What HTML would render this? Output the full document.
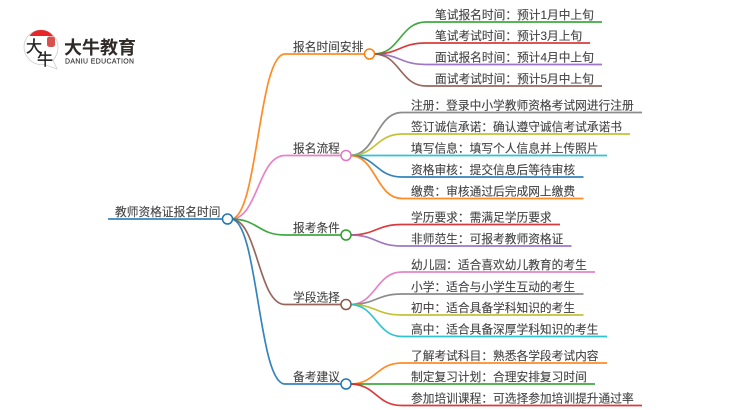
<!DOCTYPE html>
<html lang="zh">
<head>
<meta charset="utf-8">
<style>
html,body{margin:0;padding:0;background:#fff;width:750px;height:410px;overflow:hidden}
svg{display:block}
text{font-family:"Liberation Sans","Noto Sans CJK SC",sans-serif;font-size:11.72px;fill:#444;stroke:#444;stroke-width:.12px}
path{fill:none;stroke-width:1.7;stroke-opacity:.9}
circle{fill:#fff;stroke-width:1.5}
</style>
</head>
<body>
<svg width="750" height="410" viewBox="0 0 750 410" xmlns="http://www.w3.org/2000/svg">
<!-- logo -->
<path d="M44,64.500 C33,66 24,57 24,47 C24,37.500 32,30 41,30 C50,30 58,37.500 58,47 C58,53 56,57 53,60 L57,69 Z" style="fill:#fff;stroke:#c9c9c9;stroke-width:.8"/>
<path d="M29.500,36 C32,32 36,30 41,30 C46,30 50,32 53,36 Z" style="fill:#e8262a;stroke:none;stroke-opacity:1"/>
<rect x="47" y="36.500" width="8" height="10.500" rx="2.500" fill="#d8514f"/>
<text x="26" y="52" style="font-size:16px;fill:#222;stroke:#222;stroke-width:.3px;font-family:'Noto Sans CJK SC',sans-serif">大</text>
<text x="37" y="65" style="font-size:16px;fill:#222;stroke:#222;stroke-width:.3px;font-family:'Noto Sans CJK SC',sans-serif">牛</text>
<text x="64" y="54" style="font-size:18px;font-weight:700;fill:#2f2a28;stroke:none">大牛教育</text>
<text x="65" y="63.500" style="font-size:6.900px;fill:#333;stroke:#333;stroke-width:.15px" textLength="69">DANIU EDUCATION</text>

<!-- root links -->
<path stroke="#ff7f0e" d="M231,219 C258,219 258,54 285,54 H365"/>
<path stroke="#e377c2" d="M231,219 C258,219 258,155.500 285,155.500 H341"/>
<path stroke="#2ca02c" d="M231,219 C258,219 258,235 285,235 H341"/>
<path stroke="#8c564b" d="M231,219 C258,219 258,304.500 285,304.500 H341"/>
<path stroke="#1f77b4" d="M231,219 C258,219 258,384 285,384 H341"/>
<path stroke="#1f77b4" d="M108,219 H222"/>

<!-- branch 1 -->
<path stroke="#2ca02c" d="M374,54 C400,54 400,22 426,22 H602"/>
<path stroke="#d62728" d="M374,54 C400,54 400,43 426,43 H590"/>
<path stroke="#9467bd" d="M374,54 C400,54 400,64.500 426,64.500 H602"/>
<path stroke="#8c564b" d="M374,54 C400,54 400,86 426,86 H602"/>

<!-- branch 2 -->
<path stroke="#7f7f7f" d="M350,155.500 C376,155.500 376,112.500 402,112.500 H642"/>
<path stroke="#bcbd22" d="M350,155.500 C376,155.500 376,134 402,134 H630"/>
<path stroke="#17becf" d="M350,155.500 H607"/>
<path stroke="#1f77b4" d="M350,155.500 C376,155.500 376,177 402,177 H583.500"/>
<path stroke="#ff7f0e" d="M350,155.500 C376,155.500 376,198.500 402,198.500 H583.500"/>

<!-- branch 3 -->
<path stroke="#d62728" d="M350,235 C376,235 376,224.500 402,224.500 H560"/>
<path stroke="#9467bd" d="M350,235 C376,235 376,246 402,246 H571.500"/>

<!-- branch 4 -->
<path stroke="#e377c2" d="M350,304.500 C376,304.500 376,272 402,272 H595"/>
<path stroke="#7f7f7f" d="M350,304.500 C376,304.500 376,294 402,294 H583.500"/>
<path stroke="#bcbd22" d="M350,304.500 C376,304.500 376,315 402,315 H583.500"/>
<path stroke="#17becf" d="M350,304.500 C376,304.500 376,336.500 402,336.500 H607"/>

<!-- branch 5 -->
<path stroke="#ff7f0e" d="M350,384 C376,384 376,363 402,363 H607"/>
<path stroke="#2ca02c" d="M350,384 H595"/>
<path stroke="#d62728" d="M350,384 C376,384 376,405.500 402,405.500 H642"/>

<!-- nodes -->
<circle cx="227.500" cy="219" r="5" stroke="#1f77b4"/>
<circle cx="369.500" cy="54" r="5" stroke="#ff7f0e"/>
<circle cx="346" cy="155.500" r="5" stroke="#e377c2"/>
<circle cx="346" cy="235" r="5" stroke="#2ca02c"/>
<circle cx="346" cy="304.500" r="5" stroke="#8c564b"/>
<circle cx="346" cy="384" r="5" stroke="#1f77b4"/>

<!-- labels -->
<text x="115" y="216">教师资格证报名时间</text>
<text x="293" y="51">报名时间安排</text>
<text x="293" y="152.500">报名流程</text>
<text x="293" y="232">报考条件</text>
<text x="293" y="301.500">学段选择</text>
<text x="293" y="381">备考建议</text>

<text x="435" y="19">笔试报名时间：预计1月中上旬</text>
<text x="435" y="40">笔试考试时间：预计3月上旬</text>
<text x="435" y="61.500">面试报名时间：预计4月中上旬</text>
<text x="435" y="83">面试考试时间：预计5月中上旬</text>

<text x="411" y="109.500">注册：登录中小学教师资格考试网进行注册</text>
<text x="411" y="131">签订诚信承诺：确认遵守诚信考试承诺书</text>
<text x="411" y="152.500">填写信息：填写个人信息并上传照片</text>
<text x="411" y="174">资格审核：提交信息后等待审核</text>
<text x="411" y="195.500">缴费：审核通过后完成网上缴费</text>

<text x="411" y="221.500">学历要求：需满足学历要求</text>
<text x="411" y="243">非师范生：可报考教师资格证</text>

<text x="411" y="269">幼儿园：适合喜欢幼儿教育的考生</text>
<text x="411" y="291">小学：适合与小学生互动的考生</text>
<text x="411" y="312">初中：适合具备学科知识的考生</text>
<text x="411" y="333.500">高中：适合具备深厚学科知识的考生</text>

<text x="411" y="360">了解考试科目：熟悉各学段考试内容</text>
<text x="411" y="381">制定复习计划：合理安排复习时间</text>
<text x="411" y="402.500">参加培训课程：可选择参加培训提升通过率</text>
</svg>
</body>
</html>
